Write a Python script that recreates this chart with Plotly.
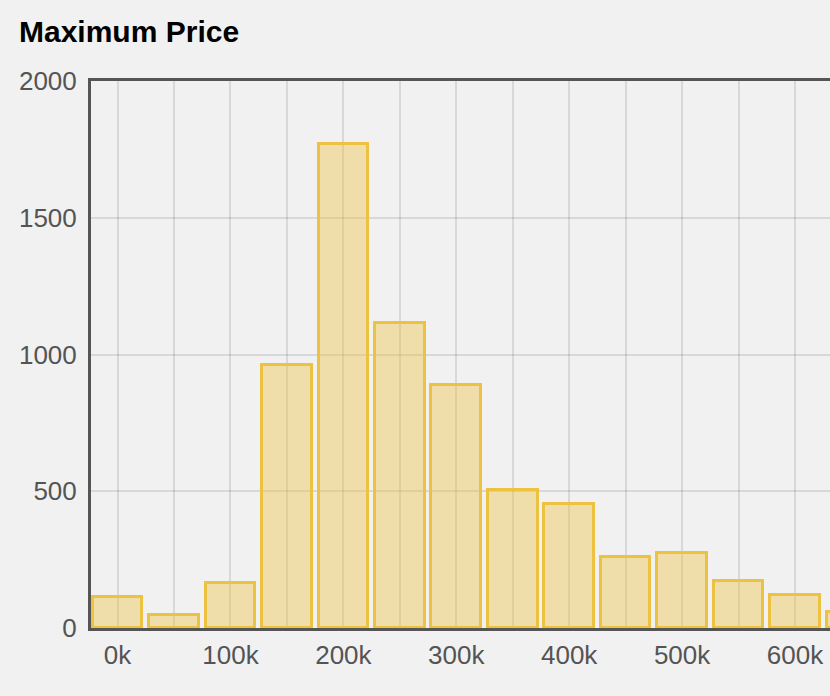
import plotly.graph_objects as go

# Data
bin_centers = [0, 50000, 100000, 150000, 200000, 250000, 300000, 350000,
               400000, 450000, 500000, 550000, 600000, 650000]
counts = [112, 49, 163, 963, 1770, 1117, 887, 505, 454, 260, 276, 173, 121, 60]
x_tick_vals = [0, 100000, 200000, 300000, 400000, 500000, 600000]
x_tick_text = ["0k", "100k", "200k", "300k", "400k", "500k", "600k"]
y_tick_vals = [0, 500, 1000, 1500, 2000]
title_text = "Maximum Price"

BG = "#f1f1f1"
AXIS = "#555555"
GRID = "rgba(0,0,0,0.10)"
FONT = "Liberation Sans, Arial, Helvetica, sans-serif"

fig = go.Figure()
fig.add_trace(go.Bar(
    x=bin_centers,
    y=counts,
    width=44000,
    marker=dict(color="rgba(237,194,64,0.4)",
                line=dict(color="#edc240", width=3)),
    hoverinfo="x+y",
))

fig.update_layout(
    width=830, height=696,
    margin=dict(l=91, r=0, t=81, b=68),
    paper_bgcolor=BG, plot_bgcolor=BG,
    showlegend=False,
    bargap=0,
    title=dict(text="<b>" + title_text + "</b>",
               font=dict(family=FONT, size=30, color="#000000"),
               x=19 / 830, xref="container", xanchor="left",
               y=1 - 31 / 696, yref="container", yanchor="middle"),
    font=dict(family=FONT, size=26, color="#545454"),
)

fig.update_xaxes(
    range=[-23500, 631000],
    tickmode="array", tickvals=x_tick_vals, ticktext=x_tick_text,
    ticks="outside", ticklen=2, tickcolor="rgba(0,0,0,0)",
    tickfont=dict(size=26, color="#545454"),
    showgrid=False,
    minor=dict(dtick=50000, tick0=0, showgrid=True, gridcolor=GRID, gridwidth=1.5),
    showline=True, linecolor=AXIS, linewidth=3, mirror=True,
    zeroline=False, fixedrange=True,
)
fig.update_yaxes(
    range=[0, 2000],
    tickmode="array", tickvals=y_tick_vals,
    ticks="outside", ticklen=6, tickcolor="rgba(0,0,0,0)",
    tickfont=dict(size=26, color="#545454"),
    showgrid=True, gridcolor=GRID, gridwidth=1.5,
    showline=True, linecolor=AXIS, linewidth=3, mirror=False,
    zeroline=False, fixedrange=True,
)

fig.write_html(
    "out.html",
    config={"displayModeBar": False},
    post_script="document.body.style.margin='0';document.body.style.background='#f1f1f1';document.body.style.overflow='hidden';",
)
